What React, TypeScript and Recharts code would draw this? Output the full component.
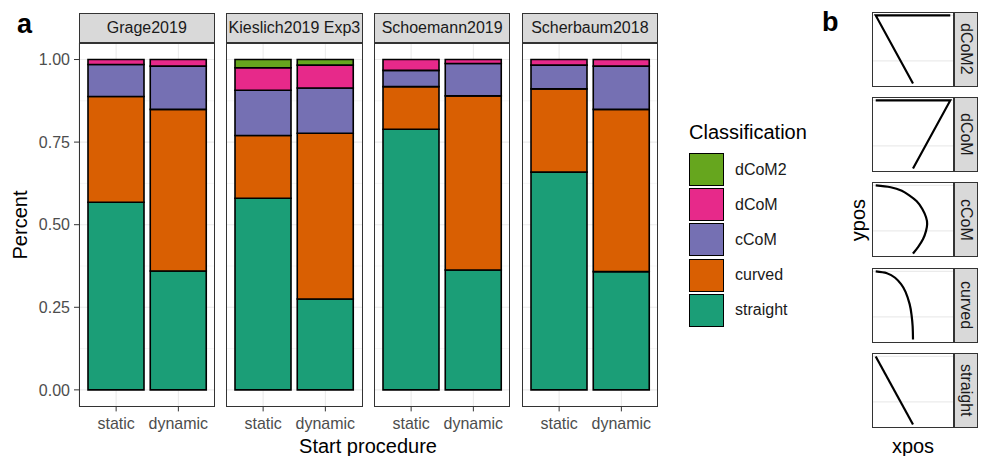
import React from "react";
import { BarChart, Bar, LineChart, Line, XAxis, YAxis, CartesianGrid } from "recharts";

// facets and x categories
const studies = ["Grage2019", "Kieslich2019 Exp3", "Schoemann2019", "Scherbaum2018"];
const procedures = ["static", "dynamic"];

// share per trajectory class, ordered study by study (static, dynamic)
const straight = [0.568, 0.36, 0.58, 0.275, 0.789, 0.363, 0.659, 0.358];
const curved = [0.32, 0.489, 0.19, 0.502, 0.129, 0.527, 0.252, 0.491];
const cCoM = [0.097, 0.131, 0.137, 0.137, 0.049, 0.098, 0.072, 0.131];
const dCoM = [0.015, 0.02, 0.068, 0.069, 0.033, 0.012, 0.017, 0.02];
const dCoM2 = [0, 0, 0.025, 0.017, 0, 0, 0, 0];

const percentTicks = [0, 0.25, 0.5, 0.75, 1];
const percentMinor = [0.125, 0.375, 0.625, 0.875];

// prototype trajectories (xpos / ypos), start at bottom centre
const protoClasses = ["dCoM2", "dCoM", "cCoM", "curved", "straight"];
const dCoM2X = [0, -1, 1];
const dCoM2Y = [0, 1.5, 1.5];
const dCoMX = [0, 1, -1];
const dCoMY = [0, 1.5, 1.5];
const cCoMX = [0, 0.14, 0.27, 0.35, 0.38, 0.35, 0.25, 0.1, -0.1, -0.3, -0.6, -1];
const cCoMY = [0, 0.15, 0.32, 0.5, 0.65, 0.8, 0.98, 1.15, 1.28, 1.38, 1.46, 1.5];
const curvedX = [0, -0.01, -0.04, -0.09, -0.2, -0.32, -0.48, -0.7, -1];
const curvedY = [0, 0.3, 0.55, 0.78, 1.05, 1.22, 1.36, 1.46, 1.5];
const straightX = [0, -1];
const straightY = [0, 1.5];
const yposTicks = [0, 0.5, 1, 1.5];

const classes = [
  { key: "dCoM2", color: "#66A61E" },
  { key: "dCoM", color: "#E7298A" },
  { key: "cCoM", color: "#7570B3" },
  { key: "curved", color: "#D95F02" },
  { key: "straight", color: "#1B9E77" },
];
const stackOrder = ["straight", "curved", "cCoM", "dCoM", "dCoM2"];
const colorOf = (k: string) => classes.find((c) => c.key === k)!.color;

const FONT = '"Liberation Sans", Arial, Helvetica, sans-serif';
const PANEL_W = 136.5;
const PANEL_H = 363.4;
const STRIP_H = 30;
const STRIP_TOP = 13.3;
const AXIS_W = 50;

function Facet({ idx }: { idx: number }) {
  const data = procedures.map((p, j) => ({
    procedure: p,
    straight: straight[idx * 2 + j],
    curved: curved[idx * 2 + j],
    cCoM: cCoM[idx * 2 + j],
    dCoM: dCoM[idx * 2 + j],
    dCoM2: dCoM2[idx * 2 + j],
  }));
  const first = idx === 0;
  const offset = first ? AXIS_W : 0;
  const left = 78.5 + idx * 147.7 - offset;

  return (
    <div style={{ position: "absolute", left, top: STRIP_TOP }}>
      <div
        style={{
          position: "absolute", left: offset, top: 0, width: PANEL_W, height: STRIP_H,
          background: "#d9d9d9", border: "1px solid #333", boxSizing: "border-box",
          display: "flex", alignItems: "center", justifyContent: "center",
          overflow: "hidden", whiteSpace: "nowrap", fontSize: 16, color: "#1a1a1a",
        }}
      >
        {studies[idx]}
      </div>
      <div style={{ position: "absolute", left: 0, top: STRIP_H }}>
        <BarChart
          width={offset + PANEL_W}
          height={PANEL_H + 40}
          data={data}
          margin={{ top: 0, right: 0, bottom: 0, left: 0 }}
        >
          <CartesianGrid horizontalValues={percentMinor} vertical={false} stroke="#f2f2f2" strokeWidth={0.7} />
          <CartesianGrid horizontalValues={percentTicks} stroke="#ebebeb" strokeWidth={1.1} />
          <XAxis
            dataKey="procedure"
            padding={{ left: 6, right: 6 }}
            height={40}
            axisLine={false}
            tickSize={5}
            tickMargin={6}
            tickLine={{ stroke: "#333" }}
            tick={{ fontSize: 16, fill: "#4d4d4d" }}
          />
          <YAxis
            hide={!first}
            width={AXIS_W}
            type="number"
            domain={[-0.05, 1.05]}
            ticks={percentTicks}
            axisLine={false}
            tickSize={5}
            tickMargin={4}
            tickLine={{ stroke: "#333" }}
            tick={{ fontSize: 16, fill: "#4d4d4d" }}
            tickFormatter={(v: number) => v.toFixed(2)}
          />
          {stackOrder.map((k) => (
            <Bar
              key={k}
              dataKey={k}
              stackId="a"
              fill={colorOf(k)}
              stroke="#000"
              strokeWidth={1.6}
              barSize={56}
              isAnimationActive={false}
            />
          ))}
        </BarChart>
        <div
          style={{
            position: "absolute", left: offset, top: 0, width: PANEL_W, height: PANEL_H,
            border: "1px solid #333", boxSizing: "border-box", pointerEvents: "none",
          }}
        />
      </div>
    </div>
  );
}

const protoPaths: Record<string, [number[], number[], "linear" | "natural"]> = {
  dCoM2: [dCoM2X, dCoM2Y, "linear"],
  dCoM: [dCoMX, dCoMY, "linear"],
  cCoM: [cCoMX, cCoMY, "natural"],
  curved: [curvedX, curvedY, "natural"],
  straight: [straightX, straightY, "linear"],
};

function Proto({ i }: { i: number }) {
  const name = protoClasses[i];
  const [xs, ys, curve] = protoPaths[name];
  const data = xs.map((x, j) => ({ x, y: ys[j] }));
  return (
    <div style={{ position: "absolute", left: 872, top: 11.7 + i * 85.35 }}>
      <LineChart width={82} height={75} data={data} margin={{ top: 0, right: 0, bottom: 0, left: 0 }}>
        <CartesianGrid horizontalValues={yposTicks} vertical={false} stroke="#ebebeb" strokeWidth={1.1} />
        <XAxis type="number" dataKey="x" domain={[-1.1, 1.1]} hide />
        <YAxis type="number" domain={[-0.075, 1.575]} hide />
        <Line
          dataKey="y"
          type={curve}
          stroke="#000"
          strokeWidth={2.2}
          dot={false}
          isAnimationActive={false}
        />
      </LineChart>
      <div
        style={{
          position: "absolute", left: 0, top: 0, width: 82, height: 75,
          border: "1px solid #333", boxSizing: "border-box", pointerEvents: "none",
        }}
      />
      <div
        style={{
          position: "absolute", left: 82, top: 0, width: 24, height: 75,
          background: "#d9d9d9", border: "1px solid #333", boxSizing: "border-box",
          display: "flex", alignItems: "center", justifyContent: "center",
          writingMode: "vertical-rl", fontSize: 16, color: "#1a1a1a",
        }}
      >
        {name}
      </div>
    </div>
  );
}

export default function App() {
  return (
    <div
      style={{
        position: "absolute", left: 0, top: 0, width: 981, height: 456,
        background: "#fff", fontFamily: FONT, overflow: "hidden",
      }}
    >
      <div style={{ position: "absolute", left: 17, top: 9, fontSize: 27, fontWeight: "bold" }}>a</div>
      <div style={{ position: "absolute", left: 822, top: 7, fontSize: 27, fontWeight: "bold" }}>b</div>

      {studies.map((_, i) => (
        <Facet key={i} idx={i} />
      ))}

      <div
        style={{
          position: "absolute", left: 20, top: 225, fontSize: 20,
          transform: "translate(-50%, -50%) rotate(-90deg)", whiteSpace: "nowrap",
        }}
      >
        Percent
      </div>
      <div
        style={{
          position: "absolute", left: 368, top: 446, fontSize: 20,
          transform: "translate(-50%, -50%)", whiteSpace: "nowrap",
        }}
      >
        Start procedure
      </div>

      <div style={{ position: "absolute", left: 689, top: 121, fontSize: 20 }}>Classification</div>
      {classes.map((c, i) => (
        <div key={c.key} style={{ position: "absolute", left: 689, top: 153 + i * 35.2 }}>
          <div
            style={{
              position: "absolute", left: 0, top: 0, width: 35, height: 33,
              background: c.color, border: "1.6px solid #000", boxSizing: "border-box",
            }}
          />
          <div
            style={{
              position: "absolute", left: 46, top: 16.5, fontSize: 16, color: "#1a1a1a",
              transform: "translateY(-50%)", whiteSpace: "nowrap",
            }}
          >
            {c.key}
          </div>
        </div>
      ))}

      {protoClasses.map((_, i) => (
        <Proto key={i} i={i} />
      ))}
      <div
        style={{
          position: "absolute", left: 858, top: 220, fontSize: 20,
          transform: "translate(-50%, -50%) rotate(-90deg)", whiteSpace: "nowrap",
        }}
      >
        ypos
      </div>
      <div
        style={{
          position: "absolute", left: 913, top: 446, fontSize: 20,
          transform: "translate(-50%, -50%)", whiteSpace: "nowrap",
        }}
      >
        xpos
      </div>
    </div>
  );
}
